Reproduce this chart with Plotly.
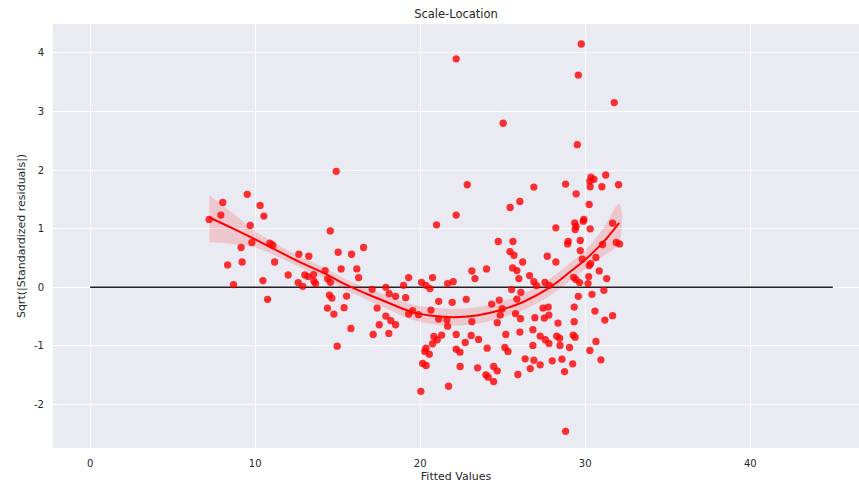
import numpy as np
import plotly.graph_objects as go

fitted = [7.21, 8.04, 7.92, 9.52, 10.30, 10.53, 9.70, 9.80, 9.15, 9.21, 8.33, 8.69, 10.47, 10.75,
          10.89, 11.07, 11.18, 12.00, 12.65, 13.25, 12.61, 12.89, 13.01, 13.21, 13.54, 13.56, 13.66,
          14.24, 14.39, 14.56, 14.55, 14.50, 14.65, 14.38, 14.77, 14.97,
          14.91, 15.03, 15.84, 16.57, 15.21, 16.16, 16.27, 15.39, 15.54, 15.80, 17.09, 17.39, 17.52,
          17.15, 17.92, 18.12, 17.92, 18.22, 18.51, 18.10, 18.51, 18.99, 19.30, 19.12, 19.30, 19.54,
          19.90, 20.08, 20.35, 20.59, 20.75, 20.99, 21.12, 20.65, 21.12, 20.83, 21.03, 21.30, 20.75,
          20.35, 20.28, 20.55, 20.15, 20.36, 20.04,
          22.85, 22.18, 25.45, 26.04, 26.89, 24.73, 25.62, 25.44, 25.68, 26.21, 25.60, 25.86, 23.13,
          24.02, 23.32, 21.66, 22.00, 25.98, 26.63, 26.89, 25.54, 26.10, 21.94, 22.79, 24.79, 24.33,
          25.86, 24.97, 24.85, 25.78, 26.08, 21.62, 21.66, 23.13, 24.67, 26.95, 26.04, 25.19, 22.18,
          23.09, 23.54, 22.73, 26.83, 26.83, 22.18, 22.41, 24.06, 25.13, 25.32, 26.36, 26.89, 26.67,
          22.42, 23.48, 24.45, 24.67, 23.98, 24.12, 24.45, 25.92, 21.72,
          28.81, 29.45, 30.35, 30.53, 30.28, 31.24, 31.01, 30.30, 32.02, 30.24, 28.22, 29.36, 29.45,
          29.39, 29.92, 29.88, 30.30, 31.66, 28.97, 28.93, 29.70, 29.70, 31.05, 31.88, 32.08, 27.70,
          28.22, 29.82, 30.33, 30.24, 30.65, 30.85, 27.05, 27.56, 27.82, 29.30, 29.44, 29.66, 30.21,
          30.17, 31.30, 31.13, 30.41, 29.58, 29.33, 27.44, 27.76, 27.52, 27.80, 30.59, 31.19, 31.66,
          28.35, 29.33, 27.27, 27.58, 27.80, 28.27, 28.45, 29.27, 29.39, 30.65, 28.47, 29.05, 30.28,
          27.27, 28.00, 28.59, 29.24, 28.75, 30.95, 28.81,
          29.76, 22.18, 29.58, 31.76, 25.03, 29.52]

sqrt_resid = [1.157, 1.448, 1.231, 1.585, 1.397, 1.214, 1.055, 0.764, 0.679, 0.432, 0.381, 0.046, 0.115, -0.205,
              0.752, 0.718, 0.432, 0.210, 0.564, 0.530, 0.080, 0.017, 0.210, 0.183, 0.217, 0.103, 0.063,
              0.285, 0.145, 0.085, 0.962, -0.133, -0.183, -0.354, -0.456, -1.003,
              1.978, 0.598, 0.564, 0.679, 0.313, 0.313, 0.166, -0.347, -0.149, -0.701, -0.034, -0.354, -0.638,
              -0.803, 0.000, -0.108, -0.491, -0.569, -0.638, -0.786, -0.154, 0.034, 0.166, -0.176, -0.456, -0.398,
              -0.467, 0.085, 0.034, -0.022, 0.166, 1.065, -0.239, -0.388, -0.542, -0.838, -0.894, -0.815, -0.962,
              -1.038, -1.094, -1.140, -1.299, -1.333, -1.773,
              1.749, 1.231, 1.362, 1.465, 1.709, 0.781, 0.781, 0.610, 0.547, 0.432, 0.330, 0.285, 0.279,
              0.313, 0.149, 0.063, 0.097, 0.149, 0.200, 0.097, -0.039, -0.085, -0.256, -0.205, -0.217, -0.285,
              -0.200, -0.364, -0.474, -0.450, -0.535, -0.552, -0.662, -0.586, -0.603, -0.518, -0.764, -0.803, -0.803,
              -0.821, -0.889, -0.940, -0.723, -0.991, -1.055, -1.106, -1.038, -1.026, -1.094, -1.219, -1.243, -1.385,
              -1.350, -1.373, -1.350, -1.424, -1.492, -1.533, -1.607, -1.487, -1.687,
              1.761, 1.595, 1.880, 1.841, 1.812, 1.915, 1.715, 1.715, 1.749, 1.414, 1.014, 1.099, 1.038,
              0.986, 1.157, 1.128, 0.997, 1.094, 0.781, 0.740, 0.798, 0.627, 0.730, 0.764, 0.740, 0.530,
              0.432, 0.479, 0.405, 0.371, 0.508, 0.279, 0.029, 0.085, 0.034, 0.171, 0.132, 0.080, 0.183,
              0.063, 0.149, -0.051, -0.120, -0.154, -0.337, -0.354, -0.337, -0.525, -0.474, -0.405, -0.559, -0.484,
              -0.610, -0.586, -0.832, -0.894, -0.957, -0.832, -0.867, -0.815, -0.850, -0.923, -0.991, -1.026, -1.077,
              -1.321, -1.253, -1.226, -1.304, -1.436, -1.236, -2.456,
              4.149, 3.897, 3.619, 3.150, 2.798, 2.432]

# regression curve and its confidence band
fit_x = [7.23, 8.67, 9.98, 11.30, 12.71, 14.12, 15.54, 16.75, 17.96, 19.38,
         20.59, 22.00, 23.42, 24.83, 26.24, 27.86, 29.07, 30.08, 31.09, 32.06]
fit_y = [1.19, 1.00, 0.82, 0.63, 0.43, 0.25, 0.04, -0.11, -0.25, -0.41,
         -0.48, -0.51, -0.48, -0.39, -0.25, 0.00, 0.26, 0.49, 0.77, 1.10]
band_upper = [1.57, 1.26, 0.96, 0.74, 0.52, 0.34, 0.13, -0.01, -0.14, -0.28,
              -0.34, -0.365, -0.34, -0.25, -0.11, 0.145, 0.41, 0.65, 1.01, 1.43]
band_lower = [0.77, 0.74, 0.68, 0.53, 0.34, 0.16, -0.05, -0.21, -0.36, -0.54,
              -0.62, -0.655, -0.62, -0.53, -0.39, -0.145, 0.11, 0.33, 0.53, 0.76]

hline_x = [0, 45]
hline_y = [0, 0]

x_ticks = [0, 10, 20, 30, 40]
y_ticks = [-2, -1, 0, 1, 2, 3, 4]

fig = go.Figure()
fig.add_trace(go.Scatter(x=hline_x, y=hline_y, mode="lines",
                         line=dict(color="#222222", width=1.6), hoverinfo="skip"))
fig.add_trace(go.Scatter(x=fitted, y=sqrt_resid, mode="markers",
                         marker=dict(color="rgba(255,0,0,0.8)", size=7.3, line=dict(width=0))))
fig.add_trace(go.Scatter(x=fit_x + fit_x[::-1],
                         y=band_upper + band_lower[::-1],
                         fill="toself", fillcolor="rgba(255,0,0,0.15)",
                         line=dict(width=0, shape="spline"), mode="lines", hoverinfo="skip"))
fig.add_trace(go.Scatter(x=fit_x, y=fit_y, mode="lines",
                         line=dict(color="rgb(255,0,0)", width=2, shape="spline")))

font_family = "DejaVu Sans"
fig.update_layout(
    width=859, height=486,
    margin=dict(l=53, r=0, t=24, b=38),
    paper_bgcolor="white",
    plot_bgcolor="#EAEAF2",
    showlegend=False,
    font=dict(family=font_family, size=10, color="#262626"),
    title=dict(text="Scale-Location", x=0.5, xref="paper", xanchor="center",
               y=1 - 14 / 486, yanchor="middle", font=dict(size=11.5, color="#262626")),
)
fig.update_xaxes(range=[-2.25, 46.59], tickvals=x_ticks, ticktext=[str(t) for t in x_ticks],
                 showgrid=True, gridcolor="white", gridwidth=1.2, zeroline=False,
                 showline=False, ticks="", ticklabelstandoff=8,
                 title=dict(text="Fitted Values", font=dict(size=11), standoff=4))
fig.update_yaxes(range=[-2.74, 4.49], tickvals=y_ticks, ticktext=[str(t) for t in y_ticks],
                 showgrid=True, gridcolor="white", gridwidth=1.2, zeroline=False,
                 showline=False, ticks="", ticklabelstandoff=8,
                 title=dict(text="Sqrt(|Standardized residuals|)", font=dict(size=11), standoff=6))

fig.write_html("out.html")
